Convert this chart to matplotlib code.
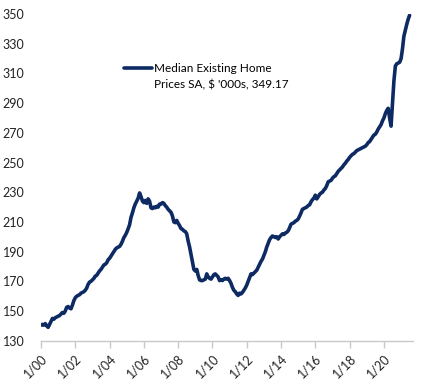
import pandas as pd
import matplotlib.pyplot as plt
from matplotlib.lines import Line2D

plt.rcParams['font.family'] = ['Lato', 'DejaVu Sans']

# monthly median existing home price, SA, $ '000s (Jan 2000 - Jul 2021)
median_price = [
    140.5, 141, 140.5, 141.5, 140, 139, 141, 143, 145, 144.5, 145.5, 146,          # 2000
    146.5, 147, 148, 149, 148.5, 150, 152.5, 153, 152, 151.5, 154, 157,            # 2001
    159, 160, 160.5, 161, 162, 162.5, 163, 164, 165.5, 168, 169.5, 170,            # 2002
    171, 172, 173.5, 174, 175.5, 177, 178, 179.5, 181, 181.5, 182.5, 184.5,        # 2003
    185.5, 187, 188.5, 190, 191.5, 192.5, 193, 193.5, 195, 197, 199.5, 201,        # 2004
    203, 205.5, 208, 213, 216, 219.5, 222, 224, 226, 229.5, 227, 224,              # 2005
    223, 224.5, 222.5, 225.5, 224, 219.5, 219, 220, 219.5, 220.5, 220, 222,        # 2006
    222, 223, 222.5, 221, 220, 218.5, 217.5, 216.5, 214, 210, 209.5, 211,          # 2007
    209, 207.5, 205.5, 205, 204, 203.5, 202, 197, 193, 188, 183, 178,              # 2008
    177, 178, 174, 171, 170.5, 170.5, 171, 171.5, 175, 173, 172, 171.5,            # 2009
    173, 174.5, 175, 174, 173, 170.5, 171, 170.5, 171.5, 172, 171.5, 172,          # 2010
    170.5, 168.5, 166, 164, 163, 161.5, 160.5, 162, 161.5, 162.5, 164, 165.5,      # 2011
    167.5, 170, 172.5, 175, 174.5, 175.5, 176.5, 177.5, 179.5, 181.5, 183.5, 185,  # 2012
    187.5, 190, 193, 195.5, 198, 199.5, 200.5, 200, 199.5, 200, 198.5, 200,        # 2013
    201, 202, 201.5, 202.5, 203, 204, 206, 208.5, 209, 209.5, 210.5, 211,          # 2014
    212, 214, 216, 218.5, 219, 219.5, 220, 221, 221.5, 223.5, 225, 226,            # 2015
    228, 225.5, 227, 228.5, 229.5, 230, 231.5, 232.5, 234.5, 237, 237.5, 238,      # 2016
    239.5, 240.5, 241, 242.5, 244, 245, 246, 247, 248.5, 249.5, 251, 252,          # 2017
    253.5, 254.5, 255.5, 256, 257, 258, 258.5, 259, 259.5, 260, 260.5, 261,        # 2018
    262, 263.5, 264, 265.5, 267, 268.5, 269, 270.5, 272.5, 274, 275.5, 278,        # 2019
    280, 283, 285, 286.5, 280, 274.5, 290, 305, 315, 316.5, 317, 317.5,            # 2020
    320, 327, 335, 339, 343, 346.5, 349.17,                                        # 2021
]
months = pd.date_range("2000-01-01", periods=len(median_price), freq="MS")

tick_dates = pd.date_range("2000-01-01", "2020-01-01", freq="2YS")
tick_labels = ["1/00", "1/02", "1/04", "1/06", "1/08", "1/10",
               "1/12", "1/14", "1/16", "1/18", "1/20"]
y_ticks = list(range(130, 351, 20))
legend_lines = ["Median Existing Home", "Prices SA, $ '000s, 349.17"]

navy = '#0E2A63'

fig = plt.figure(figsize=(4.28, 3.87), dpi=100)
ax = fig.add_axes([0.0958, 0.1196, 0.869, 0.8442])

line, = ax.plot(months, median_price, color=navy, linewidth=2.6,
                solid_joinstyle='round', solid_capstyle='round')

ax.set_ylim(130, 350)
ax.set_yticks(y_ticks)
ax.set_xlim(pd.Timestamp("2000-01-01"), pd.Timestamp("2021-09-10"))
ax.set_xticks(tick_dates)
ax.set_xticklabels(tick_labels, rotation=45, ha='right', va='top',
                   rotation_mode='anchor')

for side in ['top', 'right', 'left']:
    ax.spines[side].set_visible(False)
ax.spines['bottom'].set_color('#C8C8C8')
ax.spines['bottom'].set_linewidth(1)
ax.tick_params(axis='x', length=5, width=1, color='#C8C8C8',
               labelsize=9, labelcolor='#222222', pad=3)
ax.tick_params(axis='y', length=0, labelsize=9, labelcolor='#222222', pad=12)

blank = Line2D([], [], color='none')
ax.legend([line, blank], legend_lines, loc='upper left',
          bbox_to_anchor=(0.223, 0.85), frameon=False, fontsize=8.5,
          handlelength=2.4, handletextpad=0.15, labelspacing=0.45,
          borderpad=0, borderaxespad=0)

fig.savefig('out.png', dpi=100)
